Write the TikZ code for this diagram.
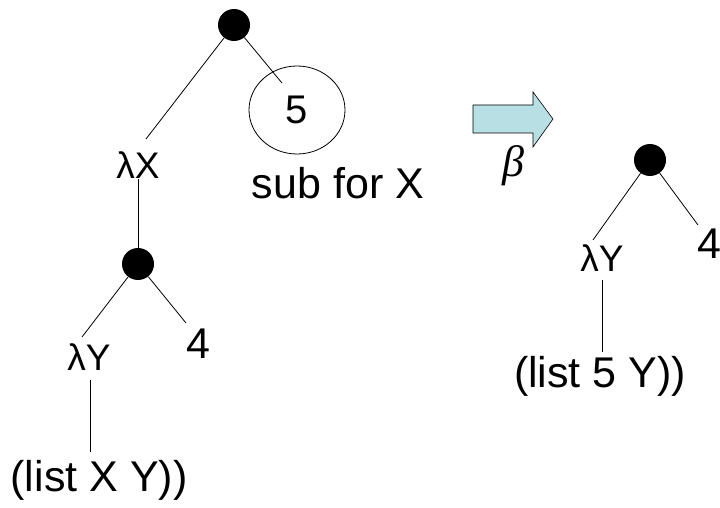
\documentclass[tikz,border=0pt]{standalone}
\usepackage{fontspec}
\usetikzlibrary{shapes.geometric}
\setmainfont{Liberation Sans}
\newfontfamily\serifit{Liberation Serif}
\definecolor{arrowfill}{HTML}{B8DFE3}
\begin{document}
\begin{tikzpicture}[x=1pt,y=-1pt,
  dot/.style={circle,fill=black,inner sep=0pt,minimum size=32pt},
  lam/.style={inner sep=0pt,font=\fontsize{37}{42}\selectfont},
  lbl/.style={inner sep=0pt,font=\fontsize{43}{48}\selectfont},
  edge/.style={draw=black,line width=0.8pt}]
\useasboundingbox (0,0) rectangle (720,508);
% left tree
\node[dot] (d1) at (234,25) {};
\node[lam] (lx) at (138,165) {λX};
\node[draw,ellipse,minimum width=96pt,minimum height=88pt,inner sep=0pt,line width=0.8pt,font=\fontsize{40}{46}\selectfont] (five) at (297,110) {5};
\node[lbl] (sub) at (338,183) {sub for X};
\node[dot] (d2) at (138,264) {};
\node[lam] (ly) at (89,357) {λY};
\node[lbl] (four) at (198,344) {4};
\node[lbl] (lst) at (99,480) {(list X Y))};
\coordinate (a1) at (146,139);
\coordinate (a2) at (282,83);
\draw[edge] (d1) -- (a1);
\draw[edge] (d1) -- (a2);
\draw[edge] (lx) -- (d2);
\coordinate (b1) at (82,337);
\coordinate (b2) at (186,323);
\draw[edge] (d2) -- (b1);
\draw[edge] (d2) -- (b2);
\coordinate (ly1) at (90,380);
\coordinate (lst1) at (90,452);
\draw[edge] (ly1) -- (lst1);
% arrow
\draw[fill=arrowfill,line width=0.6pt] (473,105) -- (533,105) -- (533,92) -- (553,119) -- (533,147) -- (533,133) -- (473,133) -- cycle;
\node[inner sep=0pt,font=\fontsize{44}{50}\selectfont\serifit\itshape] (beta) at (513,166) {β};
% right tree
\node[dot] (d3) at (650,160) {};
\node[lam] (ry) at (602,258) {λY};
\node[lbl] (rfour) at (709,244) {4};
\node[lbl] (rlst) at (600,376) {(list 5 Y))};
\coordinate (c1) at (593,240);
\coordinate (c2) at (698,225);
\draw[edge] (d3) -- (c1);
\draw[edge] (d3) -- (c2);
\coordinate (ry1) at (602,280);
\coordinate (rl1) at (602,352);
\draw[edge] (ry1) -- (rl1);
\end{tikzpicture}
\end{document}
